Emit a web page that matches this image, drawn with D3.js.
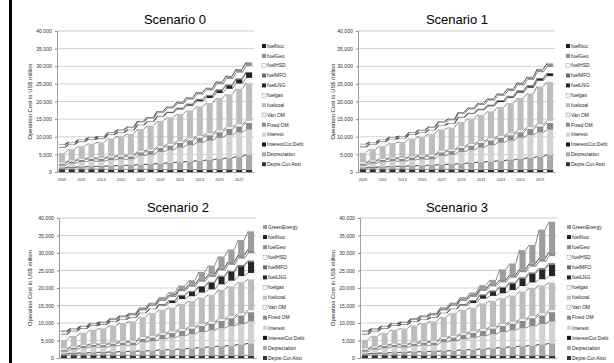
<!DOCTYPE html>
<html>
<head>
<meta charset="utf-8">
<script src="https://cdn.jsdelivr.net/npm/d3@7"></script>
<style>
body { margin: 0; background: #fff; }
svg { display: block; font-family: "Liberation Sans", Arial, sans-serif; }
</style>
</head>
<body>
<div id="chart"></div>
<script>
// categories
var years = [2009,2010,2011,2012,2013,2014,2015,2016,2017,2018,2019,2020,2021,2022,2023,2024,2025,2026,2027,2028];
var yTicks = [0,5000,10000,15000,20000,25000,30000,35000,40000];

// US$ million
// lower part, shared by scenario 0 and 1
var depreCurAsst = [800,800,800,800,800,750,750,750,750,750,700,700,700,700,700,700,700,700,700,700];
var interestCurDebt = [150,120,100,90,80,70,60,50,40,30,20,10,0,0,0,0,0,0,0,0];
var depreciation01 = [300,500,600,700,800,950,1050,1150,1350,1450,1700,1900,2100,2300,2500,2700,3000,3300,3700,4200];
var interest01 = [550,980,1300,1510,1320,1630,1740,1650,2460,2670,3280,3590,4100,4600,5100,5500,6000,6500,6800,7100];
var fixedOM01 = [600,600,650,700,700,750,800,850,1000,1050,1200,1300,1350,1400,1450,1550,1600,1700,1750,1900];
var variOM01 = [300,250,250,250,250,300,300,350,400,400,400,450,450,500,500,500,550,550,600,600];
var zeros = [0,0,0,0,0,0,0,0,0,0,0,0,0,0,0,0,0,0,0,0];

// scenario 0
var coal0 = [2700,3250,3650,4050,4500,5100,5500,6050,6200,6800,7200,7600,7750,8000,8400,8650,9150,9350,10050,10700];
var gas0 = [1500,1300,1200,1100,1000,1000,1000,1000,1100,1100,1200,1200,1300,1300,1400,1400,1400,1500,1500,1500];
var lng0 = [0,0,0,0,0,0,0,0,0,0,100,200,300,400,500,600,800,1000,1200,1400];
var mfo0 = [300,250,200,200,200,200,200,200,200,200,200,200,250,250,250,250,300,300,300,300];
var hsd0 = [500,300,300,250,250,300,400,500,600,700,800,900,1000,1100,1200,1300,1400,1500,1600,1600];
var geo0 = [200,150,150,150,200,250,300,350,400,450,500,550,600,650,700,750,800,900,1000,1100];

// scenario 1
var coal1 = [2800,3250,3650,4150,4600,5100,5400,6050,6100,6300,6900,7250,7550,7750,8200,8600,9150,9550,10750,11000];
var gas1 = [1500,1300,1200,1100,1000,1000,1000,1000,1100,1100,1200,1300,1300,1400,1400,1500,1500,1600,1600,1700];
var lng1 = [0,0,0,0,0,0,0,0,0,0,100,150,200,250,300,350,400,450,500,600];
var mfo1 = [300,250,200,200,200,200,200,200,200,200,200,200,250,250,250,250,300,300,300,300];
var hsd1 = [500,300,300,250,250,300,400,500,600,700,800,900,1000,1100,1200,1300,1400,1500,1600,1700];
var geo1 = [200,150,150,150,200,250,300,350,400,450,500,550,600,650,700,750,800,850,900,1000];

// lower part, shared by scenario 2 and 3
var depreciation23 = [300,500,600,700,800,950,1050,1150,1250,1350,1600,1700,1900,2100,2300,2500,2700,2900,3200,3500];
var interest23 = [550,980,1300,1510,1320,1630,1740,1650,2460,2670,3080,3390,3700,4000,4400,4700,5100,5500,5800,6200];
var fixedOM23 = [600,600,650,700,700,750,800,850,1000,1100,1250,1350,1500,1650,1800,1950,2100,2300,2500,2700];
var variOM23 = [300,250,250,250,250,300,300,350,400,400,400,450,450,450,500,500,500,550,550,600];

// scenario 2
var coal2 = [2500,3050,3450,4050,4550,4900,5300,5700,5800,6550,6750,6800,7300,7350,7600,7750,8450,8550,8950,8800];
var gas2 = [1500,1300,1200,1100,1000,1000,1000,1000,1100,1100,1200,1300,1300,1400,1400,1500,1500,1600,1700,1800];
var lng2 = [0,0,0,0,0,0,0,0,0,0,300,600,1000,1300,1600,1900,2200,2500,2800,3200];
var mfo2 = [300,250,200,200,200,200,200,200,200,200,200,250,250,300,300,350,350,400,400,400];
var hsd2 = [400,300,300,250,250,300,400,500,600,700,800,900,1000,1100,1200,1300,1400,1600,1800,2000];
var geo2 = [200,150,150,150,200,250,300,350,400,450,500,550,600,650,700,750,800,900,1000,1100];
var green2 = [300,200,200,200,250,300,300,350,500,500,600,800,1000,1200,2100,2500,3200,3500,4300,5200];

// scenario 3
var coal3 = [2500,3050,3450,4050,4550,4900,5300,5700,5800,6550,6750,6800,7400,7450,7400,7550,7950,8050,8050,7900];
var lng3 = [0,0,0,0,0,0,0,0,0,0,300,600,1000,1300,1600,1900,2200,2500,2800,3300];
var green3 = [300,200,200,200,250,300,300,350,500,500,600,700,1000,1200,3000,3300,5500,5300,8200,8700];

// bottom to top
var keys = ["Depre.Cur.Asst","Depreciation","InterestCur.Debt","Interest","Fixed OM","Vari OM",
            "fuelcoal","fuelgas","fuelLNG","fuelMFO","fuelHSD","fuelGeo","fuelNuc","GreenEnergy"];

var colors = {
  "Depre.Cur.Asst": "#333333",
  "Depreciation": "#a8a8a8",
  "InterestCur.Debt": "#151515",
  "Interest": "#d2d2d2",
  "Fixed OM": "#8a8a8a",
  "Vari OM": "#f2f2f2",
  "fuelcoal": "#bdbdbd",
  "fuelgas": "#f7f7f7",
  "fuelLNG": "#262626",
  "fuelMFO": "#6c6c6c",
  "fuelHSD": "#ffffff",
  "fuelGeo": "#8e8e8e",
  "fuelNuc": "#1c1c1c",
  "GreenEnergy": "#9c9c9c"
};

// bottom panels have their year labels below the picture edge
var panels = [
  {title: "Scenario 0", left: 57, right: 254, top: 31, bottom: 172, titleX: 175, titleY: 24,
   legX: 262, legY: 46, legStep: 9.85, labX: 30, xLabels: true,
   data: {"Depre.Cur.Asst": depreCurAsst, "Depreciation": depreciation01, "InterestCur.Debt": interestCurDebt,
          "Interest": interest01, "Fixed OM": fixedOM01, "Vari OM": variOM01, "fuelcoal": coal0, "fuelgas": gas0,
          "fuelLNG": lng0, "fuelMFO": mfo0, "fuelHSD": hsd0, "fuelGeo": geo0, "fuelNuc": zeros}},
  {title: "Scenario 1", left: 358, right: 555, top: 31, bottom: 172, titleX: 457, titleY: 24,
   legX: 566, legY: 46, legStep: 9.85, labX: 333, xLabels: true,
   data: {"Depre.Cur.Asst": depreCurAsst, "Depreciation": depreciation01, "InterestCur.Debt": interestCurDebt,
          "Interest": interest01, "Fixed OM": fixedOM01, "Vari OM": variOM01, "fuelcoal": coal1, "fuelgas": gas1,
          "fuelLNG": lng1, "fuelMFO": mfo1, "fuelHSD": hsd1, "fuelGeo": geo1, "fuelNuc": zeros}},
  {title: "Scenario 2", left: 59, right: 256, top: 218, bottom: 358, titleX: 178, titleY: 212,
   legX: 263, legY: 227, legStep: 10.08, labX: 30, xLabels: false,
   data: {"Depre.Cur.Asst": depreCurAsst, "Depreciation": depreciation23, "InterestCur.Debt": interestCurDebt,
          "Interest": interest23, "Fixed OM": fixedOM23, "Vari OM": variOM23, "fuelcoal": coal2, "fuelgas": gas2,
          "fuelLNG": lng2, "fuelMFO": mfo2, "fuelHSD": hsd2, "fuelGeo": geo2, "fuelNuc": zeros, "GreenEnergy": green2}},
  {title: "Scenario 3", left: 360, right: 557, top: 218, bottom: 358, titleX: 457, titleY: 212,
   legX: 567, legY: 227, legStep: 10.08, labX: 333, xLabels: false,
   data: {"Depre.Cur.Asst": depreCurAsst, "Depreciation": depreciation23, "InterestCur.Debt": interestCurDebt,
          "Interest": interest23, "Fixed OM": fixedOM23, "Vari OM": variOM23, "fuelcoal": coal3, "fuelgas": gas2,
          "fuelLNG": lng3, "fuelMFO": mfo2, "fuelHSD": hsd2, "fuelGeo": geo2, "fuelNuc": zeros, "GreenEnergy": green3}}
];

var svg = d3.select("#chart").append("svg")
    .attr("width", 614)
    .attr("height", 363);

// black rule down the left edge
svg.append("rect").attr("x", 9).attr("y", 0).attr("width", 3).attr("height", 363).attr("fill", "#000");

panels.forEach(function(p) {
  var pk = keys.filter(function(k) { return p.data[k]; });
  var rows = years.map(function(yr, i) {
    var r = {year: yr};
    pk.forEach(function(k) { r[k] = p.data[k][i]; });
    return r;
  });
  var stack = d3.stack().keys(pk)(rows);

  var x = d3.scaleBand().domain(years).range([p.left, p.right]).paddingInner(0.38).paddingOuter(0.19);
  var y = d3.scaleLinear().domain([0, 40000]).range([p.bottom, p.top]);
  var g = svg.append("g");

  // gridlines
  g.selectAll(".grid").data(yTicks.slice(1)).enter().append("line")
    .attr("x1", p.left).attr("x2", p.right)
    .attr("y1", function(d) { return y(d); }).attr("y2", function(d) { return y(d); })
    .attr("stroke", function(d) { return d === 40000 ? "#dcdcdc" : "#a0a0a0"; })
    .attr("stroke-width", function(d) { return d === 40000 ? 1.5 : 0.5; });

  // stacked bars
  var layer = g.selectAll(".layer").data(stack).enter().append("g")
    .attr("fill", function(d) { return colors[d.key]; });
  layer.selectAll("rect").data(function(d) { return d; }).enter().append("rect")
    .attr("x", function(d) { return x(d.data.year); })
    .attr("width", x.bandwidth())
    .attr("y", function(d) { return y(d[1]); })
    .attr("height", function(d) { return y(d[0]) - y(d[1]); });

  // series lines between bars
  stack.forEach(function(s) {
    var path = d3.path();
    for (var i = 0; i < s.length - 1; i++) {
      path.moveTo(x(years[i]) + x.bandwidth(), y(s[i][1]));
      path.lineTo(x(years[i + 1]), y(s[i + 1][1]));
    }
    g.append("path").attr("d", path.toString())
      .attr("fill", "none").attr("stroke", "#383838").attr("stroke-width", 0.6);
  });

  // y axis
  var ya = g.append("g")
    .attr("transform", "translate(" + p.left + ",0)")
    .call(d3.axisLeft(y).tickValues(yTicks).tickFormat(d3.format(",")).tickSize(2).tickPadding(3));
  ya.select(".domain").attr("stroke", "#888").attr("stroke-width", 0.8);
  ya.selectAll(".tick line").attr("stroke", "#888");
  ya.selectAll("text").style("font-size", "5.2px").attr("fill", "#333");

  // x axis
  var xa = g.append("g")
    .attr("transform", "translate(0," + p.bottom + ")")
    .call(d3.axisBottom(x).tickFormat(function(d, i) { return (p.xLabels && i % 2 === 0) ? d : ""; })
      .tickSize(0).tickPadding(6));
  xa.select(".domain").attr("stroke", "#888").attr("stroke-width", 0.8);
  xa.selectAll("text").style("font-size", "3.8px").attr("fill", "#333");

  // title
  svg.append("text")
    .attr("x", p.titleX).attr("y", p.titleY)
    .attr("text-anchor", "middle")
    .style("font-size", "13px")
    .text(p.title);

  // y label
  svg.append("text")
    .attr("transform", "translate(" + p.labX + "," + ((p.top + p.bottom) / 2) + ") rotate(-90)")
    .attr("text-anchor", "middle")
    .attr("dy", "0.35em")
    .style("font-size", "5.8px")
    .attr("fill", "#222")
    .text("Operation Cost  in US$ million");

  // legend, top series first
  var leg = g.selectAll(".leg").data(pk.slice().reverse()).enter().append("g")
    .attr("transform", function(d, i) { return "translate(" + p.legX + "," + (p.legY + i * p.legStep) + ")"; });
  leg.append("rect")
    .attr("x", 0).attr("y", -2).attr("width", 4).attr("height", 4)
    .attr("fill", function(d) { return colors[d]; })
    .attr("stroke", function(d) { return d3.hsl(colors[d]).l > 0.9 ? "#888" : "none"; })
    .attr("stroke-width", 0.4);
  leg.append("text")
    .attr("x", 5).attr("dy", "0.35em")
    .style("font-size", "5px")
    .attr("fill", "#222")
    .text(function(d) { return d; });
});
</script>
</body>
</html>
